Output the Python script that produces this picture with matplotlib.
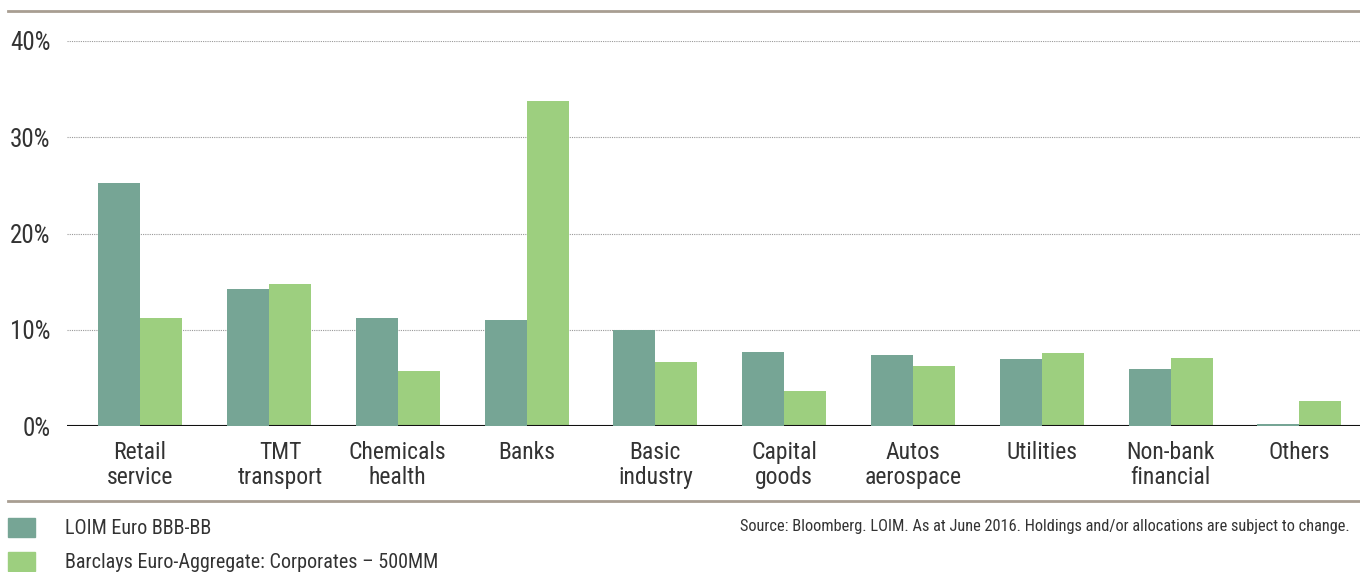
import numpy as np
import matplotlib.pyplot as plt
from matplotlib import font_manager
from matplotlib.patches import Rectangle
from matplotlib.lines import Line2D
from matplotlib.transforms import ScaledTranslation

# pick a condensed face if one is installed
names = {f.name for f in font_manager.fontManager.ttflist}
cands = ['Roboto Condensed', 'Liberation Sans Narrow', 'DejaVu Sans Condensed',
         'Open Sans Condensed', 'Roboto']
face = next(c for c in cands if c in names)
condensed = face != 'Roboto'
plt.rcParams['font.family'] = [face, 'DejaVu Sans']

categories = ["Retail\nservice", "TMT\ntransport", "Chemicals\nhealth", "Banks",
              "Basic\nindustry", "Capital\ngoods", "Autos\naerospace", "Utilities",
              "Non-bank\nfinancial", "Others"]
loim = [25.2, 14.2, 11.2, 11.0, 10.0, 7.7, 7.4, 6.95, 5.9, 0.2]
barclays = [11.2, 14.75, 5.7, 33.8, 6.65, 3.65, 6.25, 7.6, 7.05, 2.6]
series_names = ["LOIM Euro BBB-BB", "Barclays Euro-Aggregate: Corporates \u2013 500MM"]
yticks = [0, 10, 20, 30, 40]

dark = "#76a595"
light = "#9dcf7f"
txt = "#333333"
rule = "#a89e92"

k = 1.0 if condensed else 0.9
fig = plt.figure(figsize=(13.6, 5.72), dpi=100)
ax = fig.add_axes([67/1360, 1-426/572, 1-67/1360, (426-41)/572])

x = np.arange(len(categories))
w = 0.326
ax.bar(x - w/2, loim, w, color=dark, zorder=5)
ax.bar(x + w/2, barclays, w, color=light, zorder=3)

ax.set_xlim(-0.567, 9.47)
ax.set_ylim(0, 40)
ax.set_yticks(yticks)
ax.set_yticklabels([f"{v}%" for v in yticks], fontsize=18*k, color=txt)
ax.set_xticks(x)
ax.set_xticklabels(categories, fontsize=17*k, color=txt, linespacing=1.1)
ax.tick_params(axis='y', length=0, pad=12)
ax.tick_params(axis='x', length=0, pad=11)
# the TMT label sits a little right of its bars in the original
lbl = ax.get_xticklabels()[1]
lbl.set_transform(lbl.get_transform() + ScaledTranslation(0.12, 0, fig.dpi_scale_trans))
for v in yticks[1:]:
    ax.axhline(v, color="#999999", lw=0.8, ls=(0, (1, 1)), zorder=1)
ax.axhline(0, color="#111111", lw=1.5, zorder=4)
for s in ax.spines.values():
    s.set_visible(False)

# top and bottom rules
fig.add_artist(Line2D([8/1360, 1], [1-11/572, 1-11/572], color=rule, lw=2))
fig.add_artist(Line2D([8/1360, 1], [1-501/572, 1-501/572], color=rule, lw=2))

# legend
for i, (name, col) in enumerate(zip(series_names, [dark, light])):
    top = 518 + i*34
    fig.add_artist(Rectangle((8/1360, 1-(top+19)/572), 27/1360, 19/572,
                             color=col, transform=fig.transFigure))
    fig.text(65/1360, 1-(top+10)/572, name, fontsize=14.5*k, color=txt, va='center')

fig.text(740/1360, 1-526/572,
         "Source: Bloomberg. LOIM. As at June 2016. Holdings and/or allocations are subject to change.",
         fontsize=11.8*k, color=txt, va='center')

fig.savefig("out.png", dpi=100)
